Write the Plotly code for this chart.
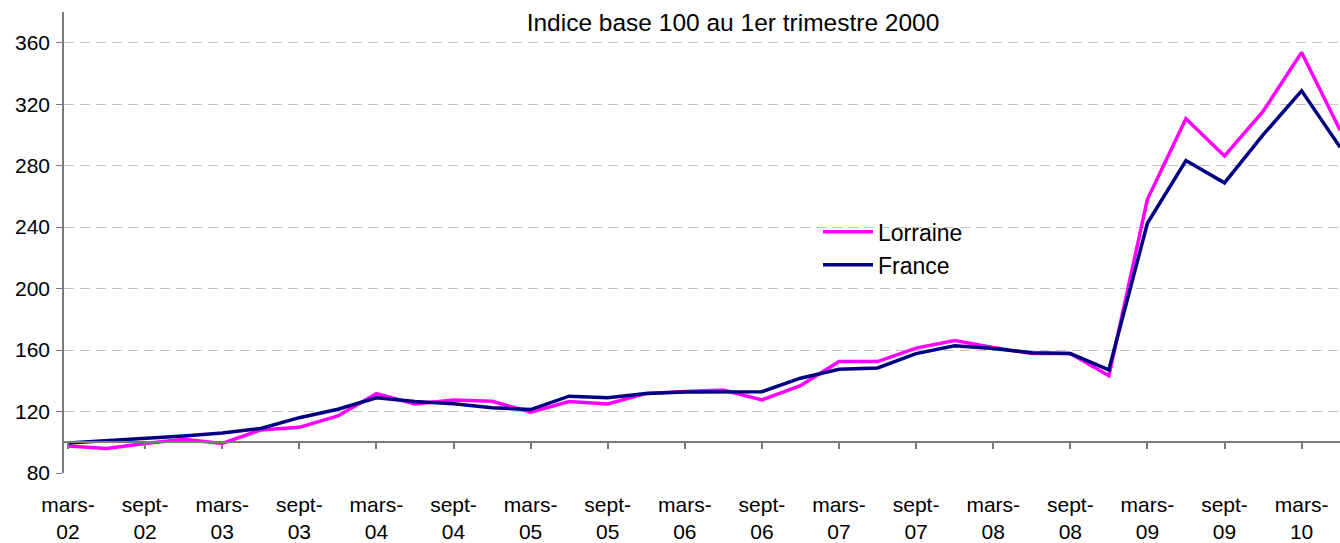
import plotly.graph_objects as go

years = ["02", "03", "04", "05", "06", "07", "08", "09", "10"]
months = ["mars-", "juin-", "sept-", "déc-"]
categories = [m + y for y in years for m in months][:34]

lorraine = [97.6, 95.9, 99.2, 101.9, 99.2, 108.0, 109.7, 117.1, 131.6, 124.9,
            127.5, 126.7, 119.6, 126.5, 124.9, 131.8, 133.1, 134.0, 127.5, 136.8,
            152.5, 152.5, 161.3, 166.2, 161.7, 157.7, 157.7, 143.2, 258.1, 310.6,
            286.3, 315.3, 353.7, 303.0]
france = [99.5, 101.0, 102.0, 104.0, 106.0, 109.0, 116.0, 121.5, 129.0, 126.5,
          125.0, 122.5, 121.3, 130.0, 129.0, 131.8, 132.7, 132.9, 132.9, 141.7,
          147.5, 148.4, 157.7, 162.8, 161.0, 158.3, 157.7, 147.2, 242.5, 283.3,
          268.8, 300.0, 328.7, 292.0]

y_ticks = [80, 120, 160, 200, 240, 280, 320, 360]
title_text = "Indice base 100 au 1er trimestre 2000"

idx = list(range(len(categories)))
tick_idx = [i for i in idx if i % 2 == 0]
tick_text = [categories[i].replace("-", "-<br>") for i in tick_idx]

font_family = "Liberation Sans"
axis_col = "#7a7a7a"
x_range = [-0.104, 32.996]

fig = go.Figure()
fig.add_trace(go.Scatter(x=idx, y=lorraine, mode="lines", name="Lorraine",
                         line=dict(color="#FF00FF", width=3.5)))
fig.add_trace(go.Scatter(x=idx, y=france, mode="lines", name="France",
                         line=dict(color="#000080", width=3.5)))
# empty trace on second x axis (axis crossing at 100: line + ticks only)
fig.add_trace(go.Scatter(x=idx, y=[None] * len(idx), xaxis="x2", showlegend=False,
                         hoverinfo="skip"))

yr = [80, 380]
fig.update_layout(
    width=1340, height=543,
    margin=dict(l=64, r=0, t=12, b=66),
    paper_bgcolor="white", plot_bgcolor="white",
    font=dict(family=font_family, size=21, color="black"),
    title=dict(text=title_text, x=733 / 1340, xanchor="center",
               y=1 - 22 / 543, yanchor="middle",
               font=dict(family=font_family, size=24.5, color="black")),
    showlegend=True,
    legend=dict(x=(818 - 64) / 1276, y=1 - (212 - 12) / 465, xanchor="left", yanchor="top",
                bgcolor="rgba(0,0,0,0)", font=dict(family=font_family, size=23),
                tracegroupgap=0, itemwidth=50),
    xaxis=dict(range=x_range, tickmode="array", tickvals=tick_idx, ticktext=tick_text,
               showgrid=False, zeroline=False, showline=False, ticks="",
               ticklabelstandoff=17, tickfont=dict(family=font_family, size=21)),
    xaxis2=dict(range=x_range, overlaying="x", anchor="free",
                position=(100 - yr[0]) / (yr[1] - yr[0]),
                tickmode="array", tickvals=tick_idx, showticklabels=False,
                showgrid=False, zeroline=False, showline=True, linecolor=axis_col,
                linewidth=1.5, ticks="outside", ticklen=6, tickcolor=axis_col, tickwidth=1.5),
    yaxis=dict(range=yr, tickmode="array", tickvals=y_ticks,
               showgrid=True, gridcolor="#c4c4c4", griddash="10px,6px", gridwidth=1,
               zeroline=False, showline=True, linecolor=axis_col, linewidth=1.5,
               ticks="outside", ticklen=6, tickcolor=axis_col, ticklabelstandoff=2,
               tickfont=dict(family=font_family, size=21)),
)

fig.write_html("out.html", config={"displayModeBar": False},
               post_script="document.body.style.margin='0';document.body.style.overflow='hidden';")
